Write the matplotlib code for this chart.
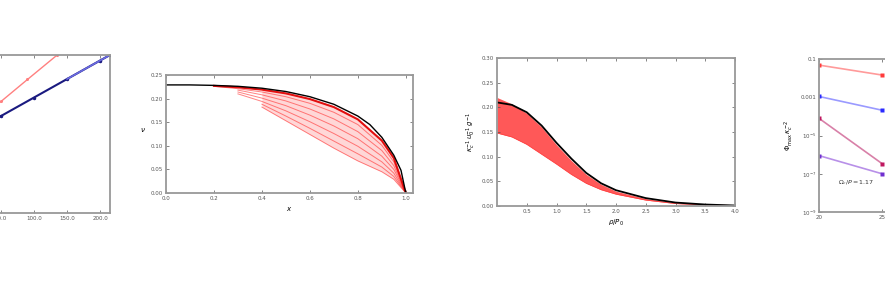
import numpy as np
import matplotlib.pyplot as plt

# panel 1: two straight series (left part cut off)
p1_x_red = [0, 50, 90, 135]
p1_y_red = [0.532, 0.706, 0.845, 1.0]
p1_x_blue = [0, 50, 100, 150, 200, 215]
p1_y_blue = [0.497, 0.614, 0.731, 0.848, 0.965, 1.0]

# panel 2: envelope and fan of red curves
p2_x = [0.1, 0.2, 0.3, 0.4, 0.5, 0.6, 0.7, 0.8, 0.9, 0.95, 1.0]
p2_env_x = [0.0, 0.1, 0.2, 0.3, 0.4, 0.5, 0.6, 0.7, 0.8, 0.85, 0.9, 0.95, 0.98, 1.0]
p2_env_y = [0.229, 0.229, 0.228, 0.226, 0.222, 0.215, 0.204, 0.188, 0.163, 0.145, 0.118, 0.080, 0.048, 0.0]
nan = np.nan
p2_red = [
    [nan, 0.227, 0.224, 0.219, 0.211, 0.199, 0.182, 0.156, 0.111, 0.074, 0.0],
    [nan, 0.226, 0.221, 0.214, 0.204, 0.190, 0.171, 0.145, 0.101, 0.066, 0.0],
    [nan, nan, 0.218, 0.208, 0.195, 0.178, 0.157, 0.130, 0.090, 0.058, 0.0],
    [nan, nan, 0.214, 0.201, 0.185, 0.165, 0.142, 0.115, 0.078, 0.050, 0.0],
    [nan, nan, 0.210, 0.194, 0.174, 0.151, 0.126, 0.099, 0.066, 0.042, 0.0],
    [nan, nan, nan, 0.188, 0.163, 0.137, 0.110, 0.083, 0.055, 0.035, 0.0],
    [nan, nan, nan, 0.182, 0.153, 0.124, 0.095, 0.068, 0.045, 0.029, 0.0],
]

# panel 3: black curve and red band
p3_x = [0, 0.25, 0.5, 0.75, 1.0, 1.25, 1.5, 1.75, 2.0, 2.5, 3.0, 3.5, 4.0]
p3_black = [0.210, 0.205, 0.190, 0.163, 0.128, 0.096, 0.067, 0.046, 0.032, 0.016, 0.007, 0.003, 0.001]
p3_red_top = [0.220, 0.207, 0.188, 0.160, 0.124, 0.092, 0.064, 0.044, 0.030, 0.015, 0.006, 0.002, 0.001]
p3_red_low = [0.148, 0.140, 0.125, 0.105, 0.085, 0.064, 0.046, 0.033, 0.024, 0.012, 0.005, 0.002, 0.001]

# panel 4: log-scale series
p4_x = [20, 25]
p4_series = {
    'red': [0.048, 0.0145],
    'blue': [1.1e-3, 2.1e-4],
    'magenta': [7.9e-5, 3.4e-7],
    'purple': [8.9e-7, 1.0e-7],
}
p4_colors = {'red': ('#ff3b3b', '#ff9a9a'), 'blue': ('#2a2aff', '#9a9aff'),
             'magenta': ('#c01860', '#d880a8'), 'purple': ('#7030d0', '#b890e8')}

W, H = 885, 288
fig = plt.figure(figsize=(W / 100, H / 100), dpi=100)


def add_ax(l, r, t, b):
    return fig.add_axes([l / W, 1 - b / H, (r - l) / W, (b - t) / H])


def style(ax):
    ax.tick_params(direction='in', top=True, right=True, labelsize=4, length=2,
                   width=0.5, colors='#555555', pad=2)
    for s in ax.spines.values():
        s.set_color('#999999')
        s.set_linewidth(1.3)


# ---- panel 1
ax1 = add_ax(-100, 110, 55, 213)
ax1.plot(p1_x_red, p1_y_red, '-o', color='#ff8080', ms=1.2, lw=1.0)
ax1.plot(p1_x_blue, p1_y_blue, '-o', color='#1a1a80', ms=1.5, lw=1.5)
ax1.plot(p1_x_blue[3:], p1_y_blue[3:], '-', color='#6a6ae0', lw=1.2)
ax1.set_xlim(-103, 215)
ax1.set_ylim(0, 1.0)
ax1.set_xticks([50, 100, 150, 200])
ax1.set_xticklabels(['50.0', '100.0', '150.0', '200.0'])
ax1.set_yticks([])
style(ax1)

# ---- panel 2
ax2 = add_ax(166, 413, 75, 193)
ax2.fill_between(p2_x, p2_red[-1], p2_red[0], color='#ff6060', alpha=0.25, lw=0)
for ys in p2_red:
    ax2.plot(p2_x, ys, color='#ff3030', lw=0.7, alpha=0.6)
ax2.plot(p2_x, p2_red[0], color='#e00000', lw=1.5, alpha=0.9)
ax2.plot(p2_env_x, p2_env_y, color='black', lw=1.0)
ax2.set_xlim(0, 1.03)
ax2.set_ylim(0, 0.25)
ax2.set_xticks([0.0, 0.2, 0.4, 0.6, 0.8, 1.0])
ax2.set_xticklabels(['0.0', '0.2', '0.4', '0.6', '0.8', '1.0'])
ax2.set_yticks([0.0, 0.05, 0.10, 0.15, 0.20, 0.25])
ax2.set_yticklabels(['0.00', '0.05', '0.10', '0.15', '0.20', '0.25'])
ax2.set_xlabel(r'$x$', fontsize=5, labelpad=3)
ax2.set_ylabel(r'$\nu$', fontsize=5, rotation=0, labelpad=6)
style(ax2)

# ---- panel 3
ax3 = add_ax(497, 735, 58, 206)
ax3.fill_between(p3_x, p3_red_low, p3_red_top, color='#ff2020', alpha=0.75, lw=0)
ax3.plot(p3_x, p3_red_low, color='#ff4040', lw=0.6)
ax3.plot(p3_x, p3_black, color='black', lw=1.3)
ax3.set_xlim(0, 4)
ax3.set_ylim(0, 0.30)
ax3.set_xticks([0.5, 1.0, 1.5, 2.0, 2.5, 3.0, 3.5, 4.0])
ax3.set_xticklabels(['0.5', '1.0', '1.5', '2.0', '2.5', '3.0', '3.5', '4.0'])
ax3.set_yticks([0.0, 0.05, 0.10, 0.15, 0.20, 0.25, 0.30])
ax3.set_yticklabels(['0.00', '0.05', '0.10', '0.15', '0.20', '0.25', '0.30'])
ax3.set_xlabel(r'$\rho/P_0$', fontsize=5, labelpad=3)
ax3.set_ylabel(r'$\kappa_c^{-1}\,u_0^{-1}\,g^{-1}$', fontsize=5, labelpad=3)
style(ax3)

# ---- panel 4
ax4 = add_ax(819, 945, 59, 212)
for name, ys in p4_series.items():
    dark, light = p4_colors[name]
    ax4.plot(p4_x, ys, '-', color=light, lw=1.2)
    ax4.plot(p4_x, ys, 's', color=dark, ms=2.5, mec='none')
ax4.set_yscale('log')
ax4.set_ylim(1e-9, 0.1)
ax4.set_xlim(20, 30)
ax4.set_xticks([20, 25, 30])
ax4.set_yticks([0.1, 1e-3, 1e-5, 1e-7, 1e-9])
ax4.set_yticklabels(['0.1', '0.001', r'$10^{-5}$', r'$10^{-7}$', r'$10^{-9}$'])
ax4.minorticks_off()
ax4.set_ylabel(r'$\Phi_{\max}\,\kappa_c^{-2}$', fontsize=5, labelpad=3)
ax4.text(21.5, 3e-8, r'$\Omega_c/P=1.17$', fontsize=4.5, color='#333333')
style(ax4)

fig.savefig('out.png', dpi=100)
